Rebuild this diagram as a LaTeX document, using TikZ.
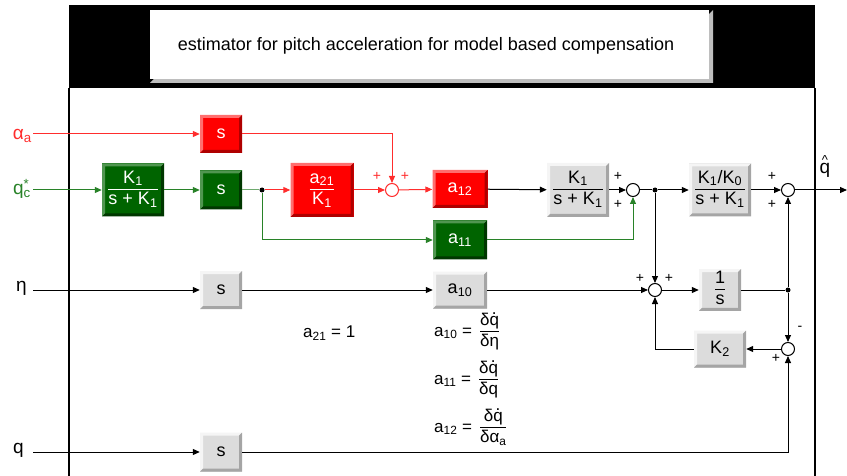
\documentclass[tikz,border=0pt]{standalone}
\usepackage{fontspec}
\setmainfont{Liberation Sans}
\usetikzlibrary{arrows.meta}
\definecolor{bred}{RGB}{255,0,0}
\definecolor{bredL}{RGB}{255,110,110}
\definecolor{bredD}{RGB}{175,0,0}
\definecolor{bgrn}{RGB}{0,100,0}
\definecolor{bgrnL}{RGB}{80,150,80}
\definecolor{bgrnD}{RGB}{0,55,0}
\definecolor{bgry}{RGB}{220,220,220}
\definecolor{bgryL}{RGB}{245,245,245}
\definecolor{bgryD}{RGB}{165,165,165}
\definecolor{lred}{RGB}{255,45,45}
\definecolor{lgrn}{RGB}{40,130,40}
\definecolor{lgrnL}{RGB}{110,170,110}
\definecolor{shad}{RGB}{190,190,190}
\setlength\arrayrulewidth{0.8pt}
\newcommand\fr[2]{\begin{tabular}{@{}c@{}}#1\\\hline\rule{0pt}{15pt}#2\end{tabular}}
\newcommand\sub[1]{\textsubscript{#1}}
\newcommand\qdt{\ooalign{q\cr\hfil\raisebox{0.6em}{.}\hfil\cr}}
\newcommand\qhat{\ooalign{q\cr\hfil\raisebox{0.45em}{\fontsize{13}{13}\selectfont\textasciicircum}\hfil\cr}}
\tikzset{
  bevel/.style 2 args={path picture={
    \fill[#1] (path picture bounding box.south west) -- (path picture bounding box.north west)
      -- (path picture bounding box.north east) -- ++(-3pt,-3pt)
      -| ([shift={(3pt,3pt)}]path picture bounding box.south west) -- cycle;
    \fill[#2] (path picture bounding box.south west) -- (path picture bounding box.south east)
      -- (path picture bounding box.north east) -- ++(-3pt,-3pt)
      |- ([shift={(3pt,3pt)}]path picture bounding box.south west) -- cycle;}},
  blkbase/.style={rectangle, inner sep=0pt, font=\fontsize{18}{20}\selectfont},
  gbox/.style={blkbase, fill=bgry, bevel={bgryL}{bgryD}, text=black},
  rbox/.style={blkbase, fill=bred, bevel={bredL}{bredD}, text=white},
  grbox/.style={blkbase, fill=bgrn, bevel={bgrnL}{bgrnD}, text=white},
  sumnode/.style={circle, draw=black, fill=white, minimum size=13pt, inner sep=0pt, line width=1pt},
  dotnode/.style={circle, fill=black, minimum size=5pt, inner sep=0pt},
  wire/.style={line width=1pt, draw=black},
  arr/.style={-{Triangle[length=7pt,width=6pt]}},
  ann/.style={inner sep=0pt, font=\fontsize{17}{19}\selectfont},
  sgn/.style={inner sep=0pt, font=\fontsize{14}{14}\selectfont},
  lbl/.style={inner sep=0pt, font=\fontsize{19}{21}\selectfont},
}
\begin{document}
\begin{tikzpicture}[x=1pt,y=-1pt]
\useasboundingbox (0,0) rectangle (847,476);
% frame
\fill[black] (69,5) rectangle (815,88);
\draw[line width=1.2pt] (69,88) -- (69,476);
\draw[line width=1.2pt] (815,88) -- (815,476);
\fill[shad] (150,83) -- (154,79) -- (709,79) -- (709,14) -- (713,10) -- (713,83) -- cycle;
\fill[white] (150,10) rectangle (709,79);
\node[inner sep=0pt, font=\fontsize{18}{20}\selectfont] (title) at (426,46) {estimator for pitch acceleration for model based compensation};
% inputs
\coordinate (inA) at (33,134);
\coordinate (inQc) at (33,190);
\coordinate (inEta) at (33,290);
\coordinate (inQ) at (33,452);
\coordinate (out) at (847,190);
\node[lbl, anchor=east, text=lred] (lA) at (32,136) {α\sub{a}};
\node[lbl, anchor=east, text=lgrn] (lQc) at (31,189) {q\rlap{\textsuperscript{*}}\sub{c}};
\node[lbl, anchor=east] (lEta) at (27,288) {η};
\node[lbl, anchor=east] (lQ) at (24,450) {q};
% blocks
\node[rbox, minimum width=42pt, minimum height=38pt] (sR) at (221,134) {s};
\node[grbox, minimum width=62pt, minimum height=53pt] (kG) at (133,190) {\fr{K\sub1}{s + K\sub1}};
\node[grbox, minimum width=42pt, minimum height=39pt] (sG) at (221,190) {s};
\node[rbox, minimum width=63pt, minimum height=54pt] (aR) at (322,190) {\fr{a\sub{21}}{K\sub1}};
\node[sumnode, draw=lred] (sumR) at (392,190) {};
\node[rbox, minimum width=55pt, minimum height=38pt] (a12) at (460,189) {a\sub{12}};
\node[grbox, minimum width=54pt, minimum height=39pt] (a11) at (460,240) {a\sub{11}};
\node[gbox, minimum width=62pt, minimum height=54pt] (kGr) at (578,190) {\fr{K\sub1}{s + K\sub1}};
\node[sumnode] (sum1) at (633,190) {};
\node[gbox, minimum width=62pt, minimum height=53pt] (kK) at (720,190) {\fr{K\sub1/K\sub0}{s + K\sub1}};
\node[sumnode] (sum2) at (788,190) {};
\node[gbox, minimum width=42pt, minimum height=38pt] (sE) at (221,290) {s};
\node[gbox, minimum width=54pt, minimum height=37pt] (a10) at (460,290) {a\sub{10}};
\node[sumnode] (sum3) at (655,290) {};
\node[gbox, minimum width=42pt, minimum height=37pt] (inv) at (720,290) {\fr{1}{s}};
\node[gbox, minimum width=52pt, minimum height=37pt] (K2) at (720,349) {K\sub2};
\node[sumnode] (sum4) at (788,349) {};
\node[gbox, minimum width=42pt, minimum height=39pt] (sQ) at (221,452) {s};
\node[dotnode] (jG) at (262,190) {};
\node[dotnode] (j1) at (655,190) {};
\node[dotnode] (j2) at (788,290) {};
% signs
\node[sgn, text=lred] (pR1) at (377,176) {+};
\node[sgn, text=lred] (pR2) at (405,176) {+};
\node[sgn] (p11) at (618,176) {+};
\node[sgn] (p12) at (618,204) {+};
\node[sgn] (p21) at (772,176) {+};
\node[sgn] (p22) at (772,204) {+};
\node[sgn] (p31) at (640,278) {+};
\node[sgn] (p32) at (669,278) {+};
\node[sgn] (m41) at (800,328) {-};
\node[sgn] (p42) at (776,358) {+};
\node[lbl] (qh) at (825,168) {\qhat};
% annotations
\node[ann, anchor=west] (n21) at (303,333) {a\sub{21} = 1};
\node[ann, anchor=west] (n10) at (434,332) {a\sub{10} =\hspace{8pt}\fr{δ\qdt}{δη}};
\node[ann, anchor=west] (n11) at (434,380) {a\sub{11} =\hspace{8pt}\fr{δ\qdt}{δq}};
\node[ann, anchor=west] (n12) at (434,428) {a\sub{12} =\hspace{8pt}\fr{δ\qdt}{δα\sub{a}}};
% red wires
\draw[wire, draw=lred, arr] (inA) -- (sR);
\draw[wire, draw=lred, arr] (sR.east) -| (sumR.north);
\draw[wire, draw=lred, arr] (jG) -- (aR);
\draw[wire, draw=lred, arr] (aR) -- (sumR);
\draw[wire, draw=lred, arr] (sumR) -- (a12);
% green wires
\draw[wire, draw=lgrn, arr] (inQc) -- (kG);
\draw[wire, draw=lgrn, arr] (kG) -- (sG);
\draw[wire, draw=lgrnL] (sG) -- (jG);
\draw[wire, draw=lgrn, arr] (jG) |- (a11);
\draw[wire, draw=lgrn, arr] (a11) -| (sum1.south);
% black wires
\draw[wire, arr] (a12) -- (kGr);
\draw[wire, arr] (kGr) -- (sum1);
\draw[wire] (sum1) -- (j1);
\draw[wire, arr] (j1) -- (kK);
\draw[wire, arr] (j1) -- (sum3.north);
\draw[wire, arr] (kK) -- (sum2);
\draw[wire, arr] (sum2) -- (out);
\draw[wire, arr] (inEta) -- (sE);
\draw[wire, arr] (sE) -- (a10);
\draw[wire, arr] (a10) -- (sum3);
\draw[wire, arr] (sum3) -- (inv);
\draw[wire] (inv) -- (j2);
\draw[wire, arr] (j2) -- (sum2.south);
\draw[wire, arr] (j2) -- (sum4.north);
\draw[wire, arr] (sum4) -- (K2);
\draw[wire, arr] (K2.west) -| (sum3.south);
\draw[wire, arr] (inQ) -- (sQ);
\draw[wire, arr] (sQ) -| (sum4.south);
\end{tikzpicture}
\end{document}
